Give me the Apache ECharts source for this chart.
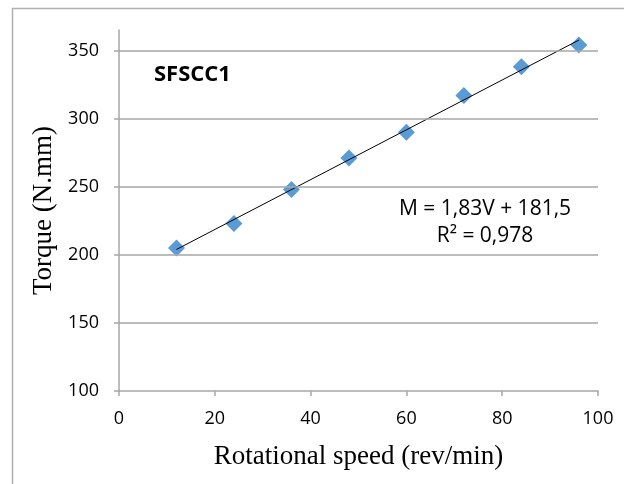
<!DOCTYPE html>
<html>
<head>
<meta charset="utf-8">
<script src="https://cdn.jsdelivr.net/npm/echarts@6/dist/echarts.min.js"></script>
<style>
  html, body { margin: 0; padding: 0; background: #fff; }
  #chart { width: 624px; height: 484px; }
</style>
</head>
<body>
<div id="chart"></div>
<script>
// rotational speed (rev/min)
var speed = [12, 24, 36, 48, 60, 72, 84, 96];
// torque (N.mm)
var torque = [205, 223, 248, 271, 290, 317, 338, 354];
// horizontal gridlines
var yGrid = [150, 200, 250, 300, 350];
var seriesLabel = 'SFSCC1';
var eqText = ['M = 1,83V + 181,5', 'R\u00b2 = 0,978'];

// least squares trend line
function fitLine(xs, ys) {
    var n = xs.length, mx = 0, my = 0;
    for (var i = 0; i < n; i++) { mx += xs[i]; my += ys[i]; }
    mx /= n; my /= n;
    var sxy = 0, sxx = 0;
    for (var j = 0; j < n; j++) {
        sxy += (xs[j] - mx) * (ys[j] - my);
        sxx += (xs[j] - mx) * (xs[j] - mx);
    }
    var k = sxy / sxx;
    return {k: k, b: my - k * mx};
}
var fit = fitLine(speed, torque);
var xFirst = speed[0], xLast = speed[speed.length - 1];
var trend = [[xFirst, fit.k * xFirst + fit.b], [xLast, fit.k * xLast + fit.b]];

var chart = echarts.init(document.getElementById('chart'));
var gray = '#a6a6a6';
var labelFont = 'Open Sans';

chart.setOption({
    animation: false,
    backgroundColor: '#fff',
    grid: {left: 119, right: 26, top: 30, bottom: 93},
    graphic: [
        {type: 'rect', shape: {x: 12.5, y: 8.5, width: 700, height: 600},
         style: {fill: 'none', stroke: '#b0b0b0', lineWidth: 1.5}, silent: true},
        {type: 'text', x: 154, y: 64,
         style: {text: seriesLabel, fontSize: 22, fontWeight: 'bold', fontFamily: labelFont,
                 fill: '#000'}},
        {type: 'text', x: 485, y: 196,
         style: {text: eqText.join('\n'), fontSize: 21, fontFamily: labelFont, fill: '#000',
                 align: 'center', lineHeight: 27}}
    ],
    xAxis: {
        type: 'value', min: 0, max: 100, interval: 20,
        name: 'Rotational speed (rev/min)', nameLocation: 'middle', nameGap: 52,
        nameTextStyle: {fontFamily: 'Liberation Serif', fontSize: 27, color: '#000'},
        axisLine: {lineStyle: {color: gray, width: 1.5}},
        axisTick: {show: true, length: 5, lineStyle: {color: gray, width: 1.5}},
        axisLabel: {margin: 19, fontFamily: labelFont, fontSize: 18, color: '#000'},
        splitLine: {show: false}
    },
    yAxis: {
        type: 'value', min: 100, max: 365, interval: 50,
        name: 'Torque (N.mm)', nameLocation: 'middle', nameGap: 55,
        nameTextStyle: {fontFamily: 'Liberation Serif', fontSize: 27, color: '#000'},
        axisLine: {show: true, lineStyle: {color: gray, width: 1.5}},
        axisTick: {show: true, length: 5, lineStyle: {color: gray, width: 1.5}},
        axisLabel: {margin: 20, fontFamily: labelFont, fontSize: 18, color: '#000',
                    showMaxLabel: false},
        splitLine: {show: false}
    },
    series: [
        {
            type: 'line', data: trend, showSymbol: false, silent: true,
            lineStyle: {color: '#000', width: 1}, z: 3,
            markLine: {
                silent: true, symbol: 'none', label: {show: false},
                lineStyle: {color: gray, type: 'solid', width: 1.5},
                data: yGrid.map(function (v) { return {yAxis: v}; })
            }
        },
        {
            type: 'scatter', data: speed.map(function (x, i) { return [x, torque[i]]; }),
            symbol: 'diamond', symbolSize: 17, z: 2,
            itemStyle: {color: '#5b9bd5', opacity: 1}
        }
    ]
});
</script>
</body>
</html>
